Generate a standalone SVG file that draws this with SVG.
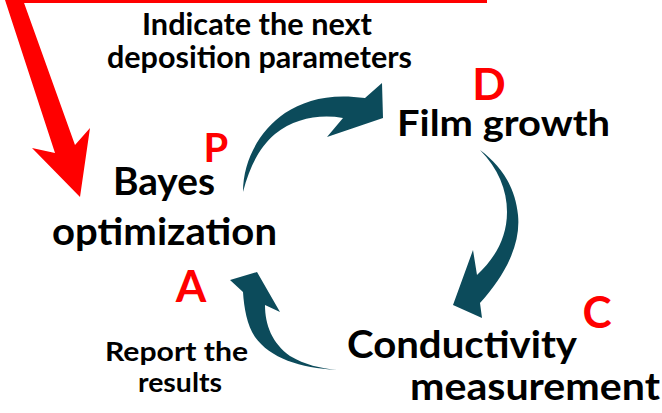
<svg xmlns="http://www.w3.org/2000/svg" width="662" height="413" viewBox="0 0 662 413">
  <style>
    .lbl { font-family: Lato, "Open Sans", "Liberation Sans", sans-serif; font-weight: 700; fill: #000; }
    .tag { font-family: Lato, "Open Sans", "Liberation Sans", sans-serif; font-weight: 700; fill: #ff0000; }
    .cyc { fill: #0c4b5b; }
    .feed { fill: #ff0000; }
  </style>
  <rect width="662" height="413" fill="#ffffff"/>

  <!-- feedback input: red line along the top and down into the optimizer -->
  <g id="feedback">
    <rect class="feed" x="10" y="0" width="477" height="3"/>
    <polygon class="feed" points="5,0 23,0 75,145 90,128 80,197 32,148 55,153"/>
  </g>

  <g id="label-indicate">
    <text class="lbl" font-size="30" x="142" y="35" textLength="230" lengthAdjust="spacingAndGlyphs">Indicate the next</text>
    <text class="lbl" font-size="30" x="107" y="68" textLength="305" lengthAdjust="spacingAndGlyphs">deposition parameters</text>
  </g>

  <g id="node-film">
    <text class="tag" font-size="44" x="489" y="100" text-anchor="middle">D</text>
    <text class="lbl" font-size="37" x="397" y="136" textLength="213" lengthAdjust="spacingAndGlyphs">Film growth</text>
  </g>

  <g id="node-bayes">
    <text class="tag" font-size="40" x="216" y="162" text-anchor="middle">P</text>
    <text class="lbl" font-size="38" x="113" y="195" textLength="102" lengthAdjust="spacingAndGlyphs">Bayes</text>
    <text class="lbl" font-size="38" x="52" y="245" textLength="225" lengthAdjust="spacingAndGlyphs">optimization</text>
    <text class="tag" font-size="44" x="191" y="302" text-anchor="middle">A</text>
  </g>

  <g id="node-conductivity">
    <text class="tag" font-size="44" x="597" y="328" text-anchor="middle">C</text>
    <text class="lbl" font-size="38" x="347" y="358" textLength="230" lengthAdjust="spacingAndGlyphs">Conductivity</text>
    <text class="lbl" font-size="38" x="410" y="400" textLength="250" lengthAdjust="spacingAndGlyphs">measurement</text>
  </g>

  <g id="label-report">
    <text class="lbl" font-size="27" x="105" y="361" textLength="143" lengthAdjust="spacingAndGlyphs">Report the</text>
    <text class="lbl" font-size="27" x="138" y="392" textLength="84" lengthAdjust="spacingAndGlyphs">results</text>
  </g>

  <!-- curved cycle arrows -->
  <g id="connectors">
    <path id="arrow-p-d" class="cyc" d="M243,192 C243,160 260,130 285,113 C305,100 330,93 365,98 L382,83 L383,118 L327,137 L343,118 C320,114 295,118 275,134 C260,147 250,165 243,192 Z"/>
    <path id="arrow-d-c" class="cyc" d="M480,150 C500,165 515,185 518,215 C521,245 505,275 480,303 L482,318 L453,305 L473,250 L477,275 C495,258 507,238 507,212 C507,190 498,168 480,150 Z"/>
    <path id="arrow-c-a" class="cyc" d="M337,370 C300,368 270,358 255,337 C247,325 244,308 243,292 L230,280 L257,272 L280,312 L265,305 C265,325 272,343 290,356 C305,365 320,368 337,370 Z"/>
  </g>
</svg>
